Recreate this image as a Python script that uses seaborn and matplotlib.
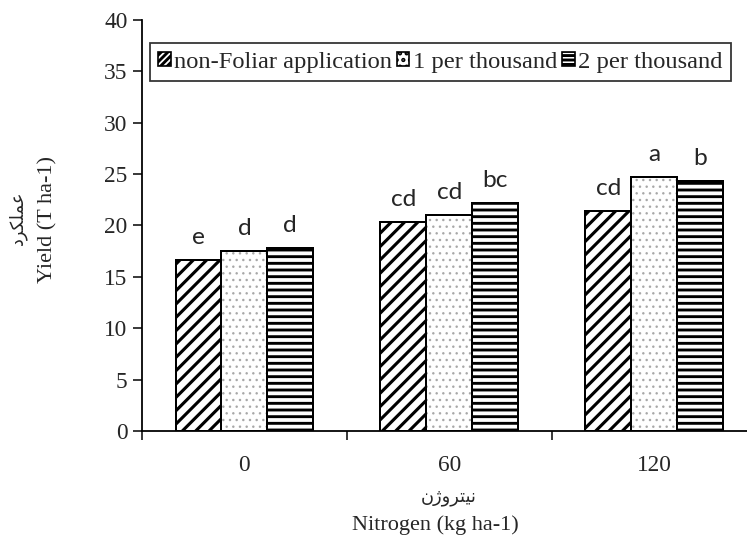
import pandas as pd
import numpy as np
import seaborn as sns
import matplotlib.pyplot as plt
from matplotlib.patches import Patch

# Data
nitrogen = ['0', '60', '120']
treatments = ['non-Foliar application', '1 per thousand', '2 per thousand']
non_foliar = [16.6, 20.3, 21.4]
one_per_thousand = [17.5, 21.0, 24.7]
two_per_thousand = [17.8, 22.2, 24.3]
letters_non = ['e', 'cd', 'cd']
letters_one = ['d', 'cd', 'a']
letters_two = ['d', 'bc', 'b']

# Arabic labels, pre-shaped (presentation forms, visual order)
y_label_fa = '\uFEA9\uFEAE\uFB91\uFEE0\uFEE4\uFECB'   # عملکرد
x_label_fa = '\uFEE5\uFB8A\uFEED\uFEAE\uFE98\uFBFF\uFEE7'  # نیتروژن

df = pd.DataFrame({
    'nitrogen': nitrogen * 3,
    'treatment': np.repeat(treatments, 3),
    'yield': non_foliar + one_per_thousand + two_per_thousand,
})
letters = [letters_non, letters_one, letters_two]

# Config
DPI = 80
sns.set_style('white')
plt.rcParams['font.family'] = ['Liberation Serif', 'DejaVu Sans']
plt.rcParams['hatch.linewidth'] = 2.6
TICK_FS = 21
LABEL_FS = 20

fig = plt.figure(figsize=(747 / DPI, 554 / DPI), dpi=DPI)
ax = fig.add_axes([0.190, 0.222, 0.823, 0.742])

pal = {t: 'white' for t in treatments}
sns.barplot(data=df, x='nitrogen', y='yield', hue='treatment', order=nitrogen,
            hue_order=treatments, palette=pal, width=0.672, gap=0,
            linewidth=0, legend=False, ax=ax, errorbar=None)

hatches = ['//', '..', '--']
hatch_cols = ['black', '#a8a8a8', 'black']
hatch_lws = [2.8, 1.0, 2.6]
for cont, h, c, lw in zip(ax.containers, hatches, hatch_cols, hatch_lws):
    for bar in cont:
        bar.set_hatch(h)
        bar.set_edgecolor(c)
        bar.set_linewidth(0)
        if hasattr(bar, 'set_hatch_linewidth'):
            bar.set_hatch_linewidth(lw)

# outlines on top
sns.barplot(data=df, x='nitrogen', y='yield', hue='treatment', order=nitrogen,
            hue_order=treatments, fill=False, width=0.672, gap=0,
            linewidth=1.8, edgecolor='black', legend=False, ax=ax, errorbar=None)
for cont in ax.containers[3:]:
    for bar in cont:
        bar.set_edgecolor('black')
        bar.set_facecolor('none')

# significance letters
for cont, labs in zip(ax.containers[:3], letters):
    for bar, lab in zip(cont, labs):
        ax.annotate(lab, (bar.get_x() + bar.get_width() / 2, bar.get_height()),
                    xytext=(0, 11), textcoords='offset points', ha='center',
                    va='bottom', fontsize=22, family='Lato')

# axes
ax.set_ylim(0, 40)
ax.set_xlim(-0.5, 2.5)
ax.set_yticks(np.arange(0, 41, 5))
ax.set_xticks([0, 1, 2], nitrogen)
ax.set_xticks([-0.5, 0.5, 1.5, 2.5], minor=True)
ax.tick_params(axis='x', which='major', length=0, pad=22, labelsize=TICK_FS)
ax.tick_params(axis='x', which='minor', length=8, width=1.6, direction='out', bottom=True)
ax.tick_params(axis='y', length=8, width=1.6, direction='out', left=True, labelsize=TICK_FS, pad=5)
for s in ['top', 'right']:
    ax.spines[s].set_visible(False)
for s in ['left', 'bottom']:
    ax.spines[s].set_linewidth(1.6)
    ax.spines[s].set_color('black')
ax.set_xlabel('')
ax.set_ylabel('')

fig.text(48 / 747, 1 - 219 / 554, 'Yield (T ha-1)', rotation=90, ha='center', va='center', fontsize=LABEL_FS)
fig.text(18 / 747, 1 - 218 / 554, y_label_fa, rotation=90, ha='center', va='center',
         fontsize=16, family='DejaVu Sans')
fig.text(435 / 747, 1 - 525 / 554, 'Nitrogen (kg ha-1)', ha='center', va='center', fontsize=LABEL_FS)
fig.text(449 / 747, 1 - 497 / 554, x_label_fa, ha='center', va='center',
         fontsize=16, family='DejaVu Sans')

# legend
handles = [Patch(facecolor='white', edgecolor='black', hatch=h, linewidth=1.5) for h in ['////', '..', '---']]
leg = ax.legend(handles, treatments, loc='upper left', bbox_to_anchor=(0.013, 0.944),
                ncol=3, fontsize=22, frameon=True, fancybox=False, edgecolor='black',
                handlelength=0.5, handleheight=0.5, handletextpad=0.15, columnspacing=0.2,
                borderpad=0.35, borderaxespad=0)
leg.get_frame().set_linewidth(1.6)

fig.savefig('out.png', dpi=DPI)
